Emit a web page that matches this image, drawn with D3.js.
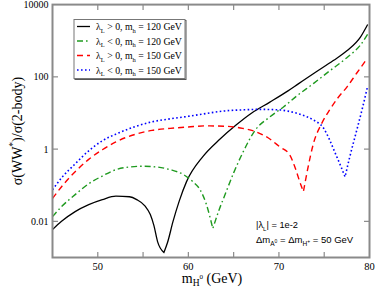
<!DOCTYPE html>
<html>
<head>
<meta charset="utf-8">
<script src="https://cdn.jsdelivr.net/npm/d3@7"></script>
<style>
  body { margin: 0; background: #fff; }
  svg { display: block; }
</style>
</head>
<body>
<div id="chart"></div>
<script>
// Data: Higgs mass (GeV) and cross-section ratio
const massBlack = [45, 46, 47.5, 49, 50.5, 52, 53.5, 54.3, 55.2, 55.8, 56.2, 56.6, 57.3, 57.7, 58.3, 59, 59.8, 61.6, 63.5, 65.3, 67, 69, 71, 72.1, 74, 76, 77.5, 79, 79.8];
const ratioBlack = [0.0059, 0.010, 0.0186, 0.029, 0.040, 0.050, 0.048, 0.040, 0.027, 0.0154, 0.0076, 0.00275, 0.00138, 0.0026, 0.0098, 0.037, 0.126, 0.62, 1.9, 4.7, 10, 20, 41, 63, 132, 282, 525, 1260, 2820];

const massGreen = [45, 46, 47.5, 49, 50.5, 52, 53.5, 55, 56.5, 58, 59.5, 60.5, 61.3, 62, 62.7, 63.4, 64, 65, 66, 67.4, 69, 70.5, 72, 73.8, 75.5, 77.5, 79, 79.8];
const ratioGreen = [0.0135, 0.0256, 0.055, 0.11, 0.18, 0.27, 0.32, 0.335, 0.32, 0.27, 0.195, 0.125, 0.075, 0.029, 0.0063, 0.021, 0.051, 0.22, 0.79, 3.4, 7.8, 14.7, 30, 65, 140, 340, 760, 1520];

const massRed = [45, 46, 47.5, 49, 50.5, 52, 54, 56, 58, 60, 62, 64, 66, 67.5, 69, 70.1, 71.2, 71.8, 72.3, 72.7, 73.2, 73.8, 74.7, 75.6, 76.5, 77.5, 78.6, 79.7];
const ratioRed = [0.043, 0.091, 0.236, 0.52, 0.96, 1.59, 2.5, 3.3, 3.76, 4.1, 4.4, 4.3, 3.76, 3.0, 1.9, 1.15, 0.69, 0.30, 0.125, 0.066, 0.30, 1.4, 5.0, 12.2, 26, 52, 128, 310];

const massBlue = [45, 46, 47.5, 49, 50.5, 52, 54, 56, 58, 60, 62, 64, 66, 68, 70, 71.2, 72.5, 73.8, 74.9, 75.6, 76.2, 76.8, 77.3, 77.8, 78.6, 79.2, 79.8];
const ratioBlue = [0.075, 0.16, 0.39, 0.90, 1.70, 2.6, 4.1, 5.7, 6.9, 8.1, 9.7, 11.4, 12.2, 12.6, 12.2, 11, 8.9, 6.4, 3.9, 1.8, 0.79, 0.35, 0.17, 0.58, 3.4, 13, 56];

// mass where each curve has its sharp minimum
const dipMass = [57.3, 62.7, 72.7, 77.3];

const legendSign = [">", "<", ">", "<"];
const legendMh = ["120", "120", "150", "150"];

const xTicks = [45, 50, 55, 60, 65, 70, 75, 80];
const xLabels = [50, 60, 70, 80];
const yTicks = [0.01, 1, 100, 10000];

const width = 376;
const height = 288;
const plot = { left: 52.5, right: 369.5, top: 4.6, bottom: 257.5 };

const svg = d3.select("#chart")
  .append("svg")
  .attr("width", width)
  .attr("height", height);

const x = d3.scaleLinear().domain([45, 80]).range([plot.left, plot.right]);
const y = d3.scaleLog().domain([0.001, 10000]).range([plot.bottom, plot.top]);

svg.append("clipPath")
  .attr("id", "clip")
  .append("rect")
  .attr("x", plot.left)
  .attr("y", plot.top)
  .attr("width", plot.right - plot.left)
  .attr("height", plot.bottom - plot.top);

const series = [
  { mass: massBlack, ratio: ratioBlack, color: "#000000", dash: null, width: 1.3 },
  { mass: massGreen, ratio: ratioGreen, color: "#1f9a1f", dash: "6,3,1.6,3", width: 1.4 },
  { mass: massRed, ratio: ratioRed, color: "#ff0000", dash: "6,4", width: 1.4 },
  { mass: massBlue, ratio: ratioBlue, color: "#0000ff", dash: "1.6,2.4", width: 1.6 },
];

const line = d3.line()
  .x((d) => x(d[0]))
  .y((d) => y(d[1]))
  .curve(d3.curveMonotoneX);

const curves = svg.append("g").attr("clip-path", "url(#clip)");

series.forEach((s, i) => {
  const pts = s.mass.map((m, j) => [m, s.ratio[j]]);
  const k = s.mass.indexOf(dipMass[i]);
  // split at the dip so the minimum stays a sharp corner
  const left = line(pts.slice(0, k + 1));
  const right = line(pts.slice(k)).replace(/^M/, "L");
  curves.append("path")
    .attr("fill", "none")
    .attr("stroke", s.color)
    .attr("stroke-width", s.width)
    .attr("stroke-dasharray", s.dash)
    .attr("d", left + right);
});

// Frame and ticks
const axisColor = "#8a8a8a";
svg.append("rect")
  .attr("x", plot.left)
  .attr("y", plot.top)
  .attr("width", plot.right - plot.left)
  .attr("height", plot.bottom - plot.top)
  .attr("fill", "none")
  .attr("stroke", axisColor)
  .attr("stroke-width", 2);

const tickLen = 5.5;
const ticks = svg.append("g").attr("stroke", axisColor).attr("stroke-width", 1.2);

xTicks.slice(1, -1).forEach((t) => {
  ticks.append("line").attr("x1", x(t)).attr("x2", x(t))
    .attr("y1", plot.bottom).attr("y2", plot.bottom - tickLen);
  ticks.append("line").attr("x1", x(t)).attr("x2", x(t))
    .attr("y1", plot.top).attr("y2", plot.top + tickLen);
});

yTicks.slice(0, -1).forEach((t) => {
  ticks.append("line").attr("y1", y(t)).attr("y2", y(t))
    .attr("x1", plot.left).attr("x2", plot.left + tickLen);
  ticks.append("line").attr("y1", y(t)).attr("y2", y(t))
    .attr("x1", plot.right).attr("x2", plot.right - tickLen);
});

const serif = "'Liberation Serif', 'Times New Roman', serif";
const sans = "'Liberation Sans', Arial, sans-serif";

svg.append("g")
  .selectAll("text")
  .data(yTicks)
  .join("text")
  .attr("x", plot.left - 4)
  .attr("y", (d) => y(d))
  .attr("dy", "0.35em")
  .attr("text-anchor", "end")
  .style("font-family", serif)
  .style("font-size", "10px")
  .text((d) => d3.format("~g")(d));

svg.append("g")
  .selectAll("text")
  .data(xLabels)
  .join("text")
  .attr("x", (d) => x(d))
  .attr("y", plot.bottom + 12)
  .attr("text-anchor", "middle")
  .style("font-family", serif)
  .style("font-size", "10.5px")
  .text((d) => d);

// Axis titles
const xTitle = svg.append("text")
  .attr("x", (plot.left + plot.right) / 2 + 1)
  .attr("y", 283)
  .attr("text-anchor", "middle")
  .style("font-family", serif)
  .style("font-size", "14px");
xTitle.append("tspan").text("m");
xTitle.append("tspan").attr("dy", 3).style("font-size", "9.5px").text("H");
xTitle.append("tspan").attr("dy", -7).style("font-size", "7px").text("0");
xTitle.append("tspan").attr("dy", 4).text(" (GeV)");

const yTitle = svg.append("text")
  .attr("transform", `translate(22, ${(plot.top + plot.bottom) / 2}) rotate(-90)`)
  .attr("text-anchor", "middle")
  .style("font-family", serif)
  .style("font-size", "14px");
yTitle.append("tspan").text("σ(WW");
yTitle.append("tspan").attr("dy", -6).style("font-size", "9.5px").text("*");
yTitle.append("tspan").attr("dy", 6).text(")/σ(2-body)");

// Legend
const legend = svg.append("g");
legend.append("rect")
  .attr("x", 75).attr("y", 20.5)
  .attr("width", 111).attr("height", 59)
  .attr("fill", "none")
  .attr("stroke", "#555")
  .attr("stroke-width", 1);
legend.append("rect")
  .attr("x", 74).attr("y", 19.5)
  .attr("width", 111).attr("height", 59)
  .attr("fill", "#fff")
  .attr("stroke", "#777")
  .attr("stroke-width", 1);

const rowY = [26.5, 41, 55.5, 70];
series.forEach((s, i) => {
  legend.append("line")
    .attr("x1", 77).attr("x2", 90)
    .attr("y1", rowY[i]).attr("y2", rowY[i])
    .attr("stroke", s.color)
    .attr("stroke-width", s.width)
    .attr("stroke-dasharray", s.dash);
  const t = legend.append("text")
    .attr("x", 96)
    .attr("y", rowY[i] + 3.5)
    .style("font-family", serif)
    .style("font-size", "9.8px");
  t.append("tspan").text("λ");
  t.append("tspan").attr("dy", 2.5).style("font-size", "6.5px").text("L");
  t.append("tspan").attr("dy", -2.5).text(` ${legendSign[i]} 0, m`);
  t.append("tspan").attr("dy", 2.5).style("font-size", "6.5px").text("h");
  t.append("tspan").attr("dy", -2.5).text(` = ${legendMh[i]} GeV`);
});

// Annotation
const note1 = svg.append("text")
  .attr("x", 256).attr("y", 228)
  .style("font-family", sans)
  .style("font-size", "9.3px");
note1.append("tspan").text("|λ");
note1.append("tspan").attr("dy", 2.5).style("font-size", "6px").text("L");
note1.append("tspan").attr("dy", -2.5).text("| = 1e-2");

const note2 = svg.append("text")
  .attr("x", 256).attr("y", 243)
  .style("font-family", sans)
  .style("font-size", "9.5px");
note2.append("tspan").text("Δm");
note2.append("tspan").attr("dy", 2.5).style("font-size", "6.5px").text("A");
note2.append("tspan").attr("dy", -3).style("font-size", "5px").text("0");
note2.append("tspan").attr("dy", 0.5).text(" = Δm");
note2.append("tspan").attr("dy", 2.5).style("font-size", "6.5px").text("H");
note2.append("tspan").attr("dy", -3).style("font-size", "5px").text("+");
note2.append("tspan").attr("dy", 0.5).text(" = 50 GeV");
</script>
</body>
</html>
